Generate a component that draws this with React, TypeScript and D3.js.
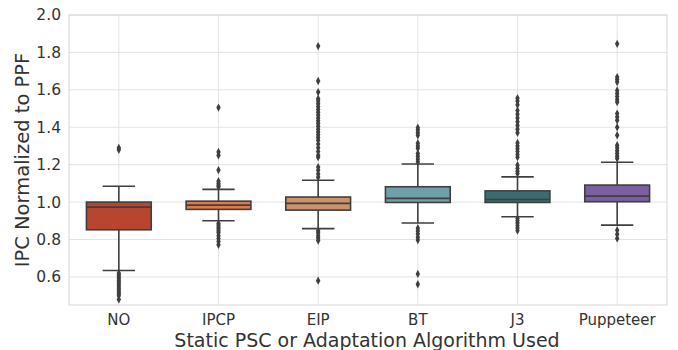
import React from "react";
import * as d3 from "d3";

const categories = ["NO", "IPCP", "EIP", "BT", "J3", "Puppeteer"];
const colors = ["#b8452f", "#e3794a", "#cb936d", "#6fa0a9", "#3b6b6e", "#7b5fa0"];
const q1 = [0.852, 0.961, 0.957, 0.998, 0.998, 1.002];
const medians = [0.973, 0.984, 0.993, 1.02, 1.014, 1.032];
const q3 = [1.0, 1.005, 1.027, 1.082, 1.06, 1.091];
const whiskerLow = [0.634, 0.9, 0.858, 0.888, 0.922, 0.877];
const whiskerHigh = [1.085, 1.068, 1.117, 1.204, 1.135, 1.213];

const outliersNO = [1.29, 1.28, 0.62, 0.61, 0.6, 0.59, 0.58, 0.57, 0.56, 0.55, 0.54, 0.53, 0.52, 0.51, 0.5, 0.48];
const outliersIPCP = [1.505, 1.268, 1.25, 1.171, 1.112, 1.1, 1.09, 1.082, 0.886, 0.876, 0.866, 0.856, 0.846, 0.836, 0.82, 0.805, 0.79, 0.772];
const outliersEIP = [1.834, 1.647, 1.588, 1.553, 1.54, 1.525, 1.51, 1.495, 1.48, 1.465, 1.45, 1.435, 1.42, 1.405, 1.39, 1.375, 1.36, 1.345, 1.33, 1.31, 1.29, 1.27, 1.25, 1.24, 1.187, 1.17, 1.15, 1.133, 0.847, 0.835, 0.82, 0.808, 0.795, 0.58];
const outliersBT = [1.398, 1.385, 1.37, 1.357, 1.315, 1.3, 1.288, 1.26, 1.245, 1.23, 1.215, 0.86, 0.845, 0.83, 0.812, 0.797, 0.616, 0.561];
const outliersJ3 = [1.555, 1.54, 1.52, 1.49, 1.47, 1.45, 1.43, 1.41, 1.39, 1.37, 1.316, 1.3, 1.285, 1.27, 1.255, 1.24, 1.197, 1.18, 1.165, 1.153, 0.912, 0.9, 0.888, 0.875, 0.862, 0.848];
const outliersPup = [1.846, 1.668, 1.655, 1.642, 1.597, 1.58, 1.565, 1.548, 1.535, 1.473, 1.455, 1.437, 1.4, 1.357, 1.304, 1.29, 1.275, 1.26, 1.245, 1.233, 0.85, 0.828, 0.806];
const outliers = [outliersNO, outliersIPCP, outliersEIP, outliersBT, outliersJ3, outliersPup];

const yTicks = [0.6, 0.8, 1.0, 1.2, 1.4, 1.6, 1.8, 2.0];

export default function App() {
  const W = 678, H = 350;
  const left = 69, right = 667, top = 15, bottom = 305;
  const x = d3.scaleBand<string>().domain(categories).range([left, right]).paddingInner(0).paddingOuter(0);
  const y = d3.scaleLinear().domain([0.45, 2.0]).range([bottom, top]);
  const bw = x.bandwidth();
  const boxW = bw * 0.65;
  const capW = boxW / 2;
  const font = "DejaVu Sans, sans-serif";
  const lineC = "#3f3f3f";
  const diamond = d3.symbol().type(d3.symbolDiamond).size(14)() as string;

  return (
    <svg width={W} height={H} style={{ position: "absolute", left: 0, top: 0, background: "#fff" }}>
      <rect x={0} y={0} width={W} height={H} fill="#fff" />
      {yTicks.map((t) => (
        <line key={"g" + t} x1={left} x2={right} y1={y(t)} y2={y(t)} stroke="#e3e3e3" strokeWidth={1} />
      ))}
      {categories.map((c) => (
        <line key={"v" + c} x1={x(c)! + bw / 2} x2={x(c)! + bw / 2} y1={top} y2={bottom} stroke="#e3e3e3" strokeWidth={1} />
      ))}
      <rect x={left} y={top} width={right - left} height={bottom - top} fill="none" stroke="#d6d6d6" strokeWidth={1} />
      {categories.map((c, i) => {
        const cx = x(c)! + bw / 2;
        return (
          <g key={c}>
            <line x1={cx} x2={cx} y1={y(whiskerHigh[i])} y2={y(q3[i])} stroke={lineC} strokeWidth={1.6} />
            <line x1={cx} x2={cx} y1={y(q1[i])} y2={y(whiskerLow[i])} stroke={lineC} strokeWidth={1.6} />
            <line x1={cx - capW / 2} x2={cx + capW / 2} y1={y(whiskerHigh[i])} y2={y(whiskerHigh[i])} stroke={lineC} strokeWidth={1.6} />
            <line x1={cx - capW / 2} x2={cx + capW / 2} y1={y(whiskerLow[i])} y2={y(whiskerLow[i])} stroke={lineC} strokeWidth={1.6} />
            <rect x={cx - boxW / 2} y={y(q3[i])} width={boxW} height={y(q1[i]) - y(q3[i])} fill={colors[i]} stroke={lineC} strokeWidth={1.6} />
            <line x1={cx - boxW / 2} x2={cx + boxW / 2} y1={y(medians[i])} y2={y(medians[i])} stroke={lineC} strokeWidth={1.6} />
            {outliers[i].map((v, k) => (
              <path key={k} d={diamond} transform={`translate(${cx},${y(v)}) scale(1.1,1.2)`} fill={lineC} />
            ))}
          </g>
        );
      })}
      {yTicks.map((t) => (
        <text key={"t" + t} x={left - 8} y={y(t)} dy="0.35em" textAnchor="end" fontFamily={font} fontSize={15.5} fill="#333">
          {t.toFixed(1)}
        </text>
      ))}
      {categories.map((c) => (
        <text key={"x" + c} x={x(c)! + bw / 2} y={325} textAnchor="middle" fontFamily={font} fontSize={15} fill="#333">
          {c}
        </text>
      ))}
      <text x={367} y={347} textAnchor="middle" fontFamily={font} fontSize={19} fill="#333">
        Static PSC or Adaptation Algorithm Used
      </text>
      <text transform={`translate(29,${(top + bottom) / 2}) rotate(-90)`} textAnchor="middle" fontFamily={font} fontSize={19.5} fill="#333">
        IPC Normalized to PPF
      </text>
    </svg>
  );
}
